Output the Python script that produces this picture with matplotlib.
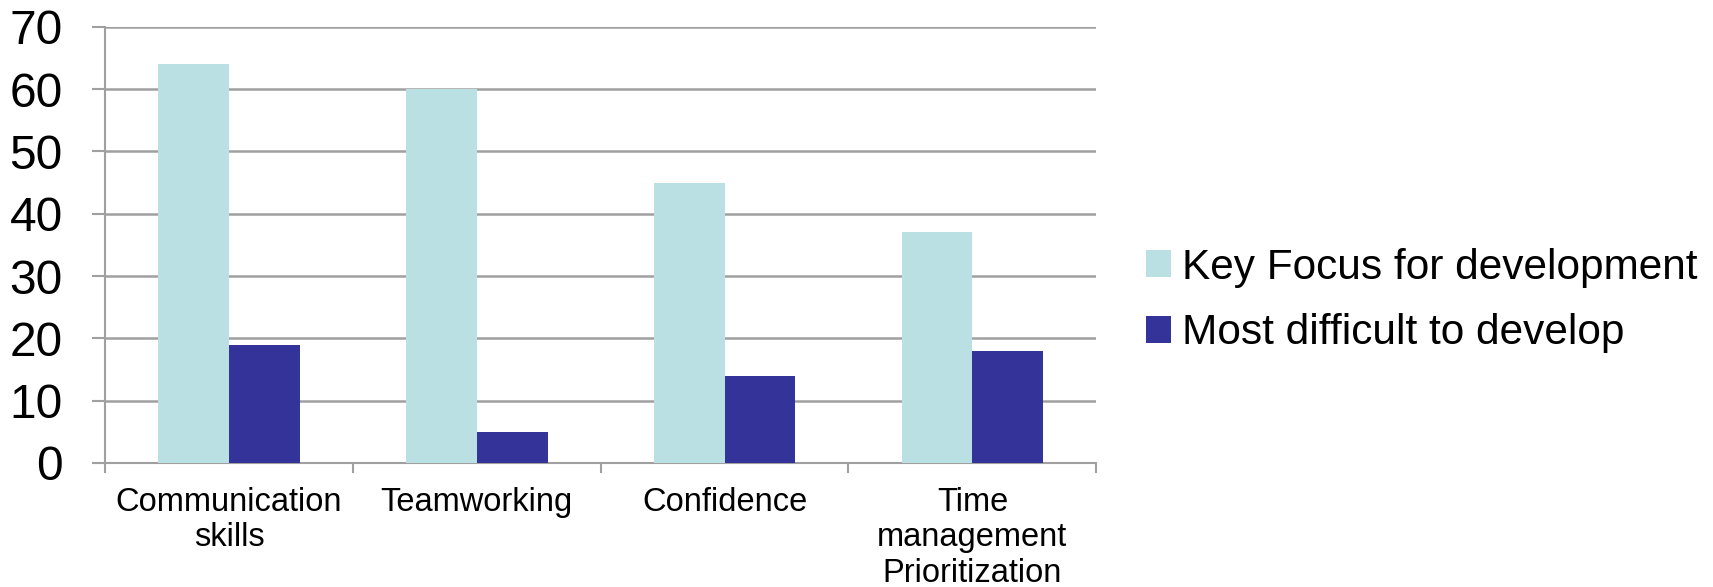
import matplotlib.pyplot as plt
import numpy as np

plt.rcParams['font.family'] = ['Liberation Sans', 'DejaVu Sans']

categories = ['Communication\nskills', 'Teamworking', 'Confidence', 'Time\nmanagement\nPrioritization']
key_focus = [64, 60, 45, 37]
most_difficult = [19, 5, 14, 18]
series_names = ['Key Focus for development', 'Most difficult to develop']
y_ticks = [0, 10, 20, 30, 40, 50, 60, 70]

light = '#BBE0E3'
dark = '#333399'
grid = '#A0A0A0'

fig = plt.figure(figsize=(17.13, 5.87), dpi=100)
ax = fig.add_axes([0.0613, 0.2113, 0.5787, 0.743])

x = np.arange(len(categories))
w = 1 / 3.5
b1 = ax.bar(x - w / 2, key_focus, w, color=light, label=series_names[0], zorder=3)
b2 = ax.bar(x + w / 2, most_difficult, w, color=dark, label=series_names[1], zorder=3)

ax.set_xlim(-0.5, len(categories) - 0.5)
ax.set_ylim(0, 70)
ax.set_yticks(y_ticks)
ax.set_yticklabels([str(t) for t in y_ticks], fontsize=34.5)
ax.tick_params(axis='y', length=9.5, width=1.5, color=grid, pad=21)

ax.set_xticks(np.arange(len(categories) + 1) - 0.5)
ax.set_xticklabels([])
ax.tick_params(axis='x', which='major', length=7, width=1.5, color=grid)
ax.set_xticks(x, minor=True)
ax.set_xticklabels(categories, minor=True, fontsize=23.5, linespacing=1.2, va='top')
ax.tick_params(axis='x', which='minor', length=0, pad=17)

ax.grid(axis='y', color=grid, linewidth=1.8, zorder=0)
ax.set_axisbelow(True)
for s in ['top', 'right']:
    ax.spines[s].set_visible(False)
for s in ['left', 'bottom']:
    ax.spines[s].set_color(grid)
    ax.spines[s].set_linewidth(1.5)

fig.legend(handles=[b1, b2], loc='center left', bbox_to_anchor=(0.6465, 0.488),
           frameon=False, fontsize=30.5, handlelength=0.6, handleheight=0.6,
           handletextpad=0.25, labelspacing=0.6)

plt.savefig('out.png')
